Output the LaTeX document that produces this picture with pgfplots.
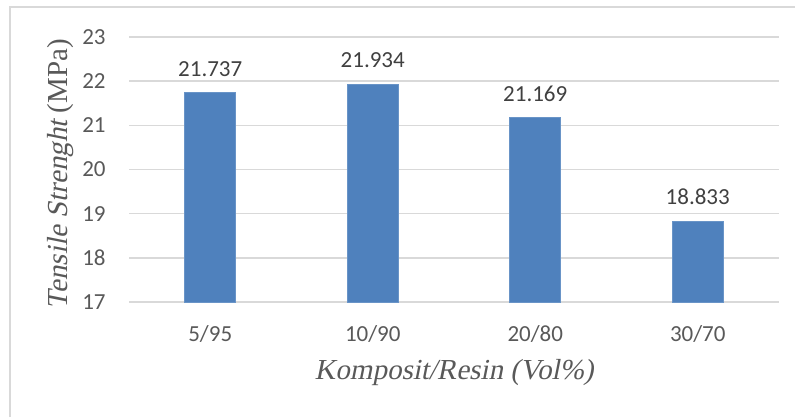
\documentclass[border=0pt]{standalone}
\usepackage{fontspec}
\setmainfont{Carlito}
\newfontfamily\timesfont{Liberation Serif}
\newfontfamily\timesit{Liberation Serif}[FakeSlant=0.2]
\usepackage{pgfplots}
\pgfplotsset{compat=1.18}
\definecolor{barblue}{HTML}{4F81BD}
\definecolor{gridgray}{HTML}{D9D9D9}
\definecolor{txtgray}{HTML}{595959}
\definecolor{lblgray}{HTML}{404040}
\begin{document}
\begin{tikzpicture}[x=1pt,y=1pt]
\path[use as bounding box] (0,0) rectangle (397.5,208.5);
\draw[gridgray, line width=0.8pt] (5,0) -- (5,205) -- (397.5,205);
\begin{axis}[
  at={(64.5pt,57.5pt)}, anchor=south west,
  scale only axis, width=325pt, height=132.5pt,
  xmin=-0.5, xmax=3.5, ymin=17, ymax=23,
  ytick={17,18,...,23},
  xtick={0,1,2,3},
  xticklabels={5/95,10/90,20/80,30/70},
  axis line style={draw=none},
  major tick length=0pt,
  ymajorgrids, grid style={gridgray, line width=0.75pt},
  /pgf/number format/assume math mode=true,
  tick label style={font=\fontsize{11.5}{13}\selectfont, text=txtgray},
  yticklabel style={anchor=east, inner sep=0pt, xshift=-11.5pt},
  xticklabel style={anchor=center, inner sep=0pt, yshift=-16pt},
  xlabel={\fontsize{14.5}{16}\timesit Komposit/Resin (Vol\%)},
  ylabel={\fontsize{14.5}{16}\timesit Tensile Strenght\timesfont\ (MPa)},
  label style={text=txtgray},
  xlabel style={at={(axis description cs:0.5,-0.268)}, anchor=center},
  ylabel style={at={(axis description cs:-0.106,0.483)}, anchor=center},
  nodes near coords={\pgfmathprintnumber[fixed,fixed zerofill,precision=3]{\pgfplotspointmeta}},
  every node near coord/.append style={anchor=center, yshift=12pt, font=\fontsize{11.5}{13}\selectfont, text=lblgray},
]
\addplot[ybar, bar width=25.5pt, fill=barblue, draw=barblue!85!white, line width=0.4pt]
  coordinates {(0,21.737) (1,21.934) (2,21.169) (3,18.833)};
\end{axis}
\end{tikzpicture}
\end{document}
